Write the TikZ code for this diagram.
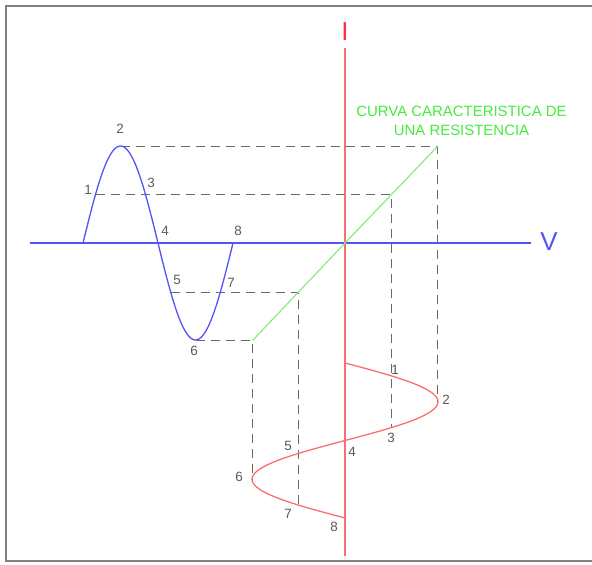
\documentclass[tikz,border=0pt]{standalone}
\usepackage{fontspec}
\setmainfont{Liberation Sans}
\usetikzlibrary{positioning}
\definecolor{voltblue}{RGB}{85,85,245}
\definecolor{currred}{RGB}{250,110,110}
\definecolor{labred}{RGB}{245,50,80}
\definecolor{resgreen}{RGB}{130,235,120}
\definecolor{txtgreen}{RGB}{70,235,60}
\definecolor{guidegray}{RGB}{105,105,105}
\definecolor{numgray}{RGB}{90,90,90}

\begin{document}
\begin{tikzpicture}[x=1bp, y=-1bp,
    numlabel/.style={text=numgray, inner sep=0pt,
                     font=\fontsize{13.5}{13.5}\selectfont},
    guide/.style={draw=guidegray, line width=1.5bp,
                  dash pattern=on 9bp off 6bp},
    axislabel/.style={inner sep=0pt, font=\fontsize{26}{26}\selectfont}]
  \useasboundingbox (0,0) rectangle (592,565);
  % frame
  \draw[gray, line width=2.2bp] (600,6) -- (6,6) -- (6,561) -- (600,561);

  % points on the voltage wave (period 150, amplitude 97)
  \coordinate (b1) at (95.5,194.5);
  \coordinate (b2) at (120.5,146.5);
  \coordinate (b5) at (170.5,292.5);
  \coordinate (b6) at (195.5,340.5);
  % points on the current wave (period 155, amplitude 93)
  \coordinate (r2) at (437.5,401.75);
  \coordinate (r3) at (391.5,427.6);
  \coordinate (r6) at (252.5,479.25);
  \coordinate (r7) at (298.5,505);
  \coordinate (o) at (345,243);

  % projection lines
  \draw[guide] (b2) -| (r2);
  \draw[guide] (b1) -| (r3);
  \draw[guide] (b5) -| (r7);
  \draw[guide] (b6) -| (r6);

  % axes
  \draw[voltblue, line width=1.3bp] (30,243) -- (531,243);
  \draw[currred, line width=1.8bp] (345,48) -- (345,556);
  \node[axislabel, text=voltblue] (vlab) at (549,242) {V};
  \node[axislabel, text=labred] (ilab) at (345,32) {I};

  % characteristic of the resistor
  \draw[resgreen, line width=1.1bp] (252.5,340.5) -- (o) -- (437.5,146.5);
  \node[text=txtgreen, align=center, inner sep=0pt,
        font=\fontsize{15}{18.5}\selectfont] (title) at (461.5,121)
    {CURVA CARACTERISTICA DE\\UNA RESISTENCIA};

  % waves
  \draw[voltblue, line width=1.3bp]
    plot[domain=0:360, samples=91, smooth] ({83+\x/2.4},{243-97*sin(\x)});
  \draw[currred, line width=1.3bp]
    plot[domain=0:360, samples=91, smooth] ({345+93*sin(\x)},{363+\x/2.3226});

  % numbering, voltage
  \node[numlabel] (v1) at (88,190) {1};
  \node[numlabel] (v2) at (120,129) {2};
  \node[numlabel] (v3) at (151,183) {3};
  \node[numlabel] (v4) at (165,231) {4};
  \node[numlabel] (v5) at (177,280) {5};
  \node[numlabel] (v6) at (194,351) {6};
  \node[numlabel] (v7) at (231,283) {7};
  \node[numlabel] (v8) at (238,231) {8};
  % numbering, current
  \node[numlabel] (c1) at (395,370) {1};
  \node[numlabel] (c2) at (446,400) {2};
  \node[numlabel] (c3) at (391,438) {3};
  \node[numlabel] (c4) at (352,452) {4};
  \node[numlabel] (c5) at (288,446) {5};
  \node[numlabel] (c6) at (239,477) {6};
  \node[numlabel] (c7) at (288,514) {7};
  \node[numlabel] (c8) at (334,527) {8};
\end{tikzpicture}
\end{document}
